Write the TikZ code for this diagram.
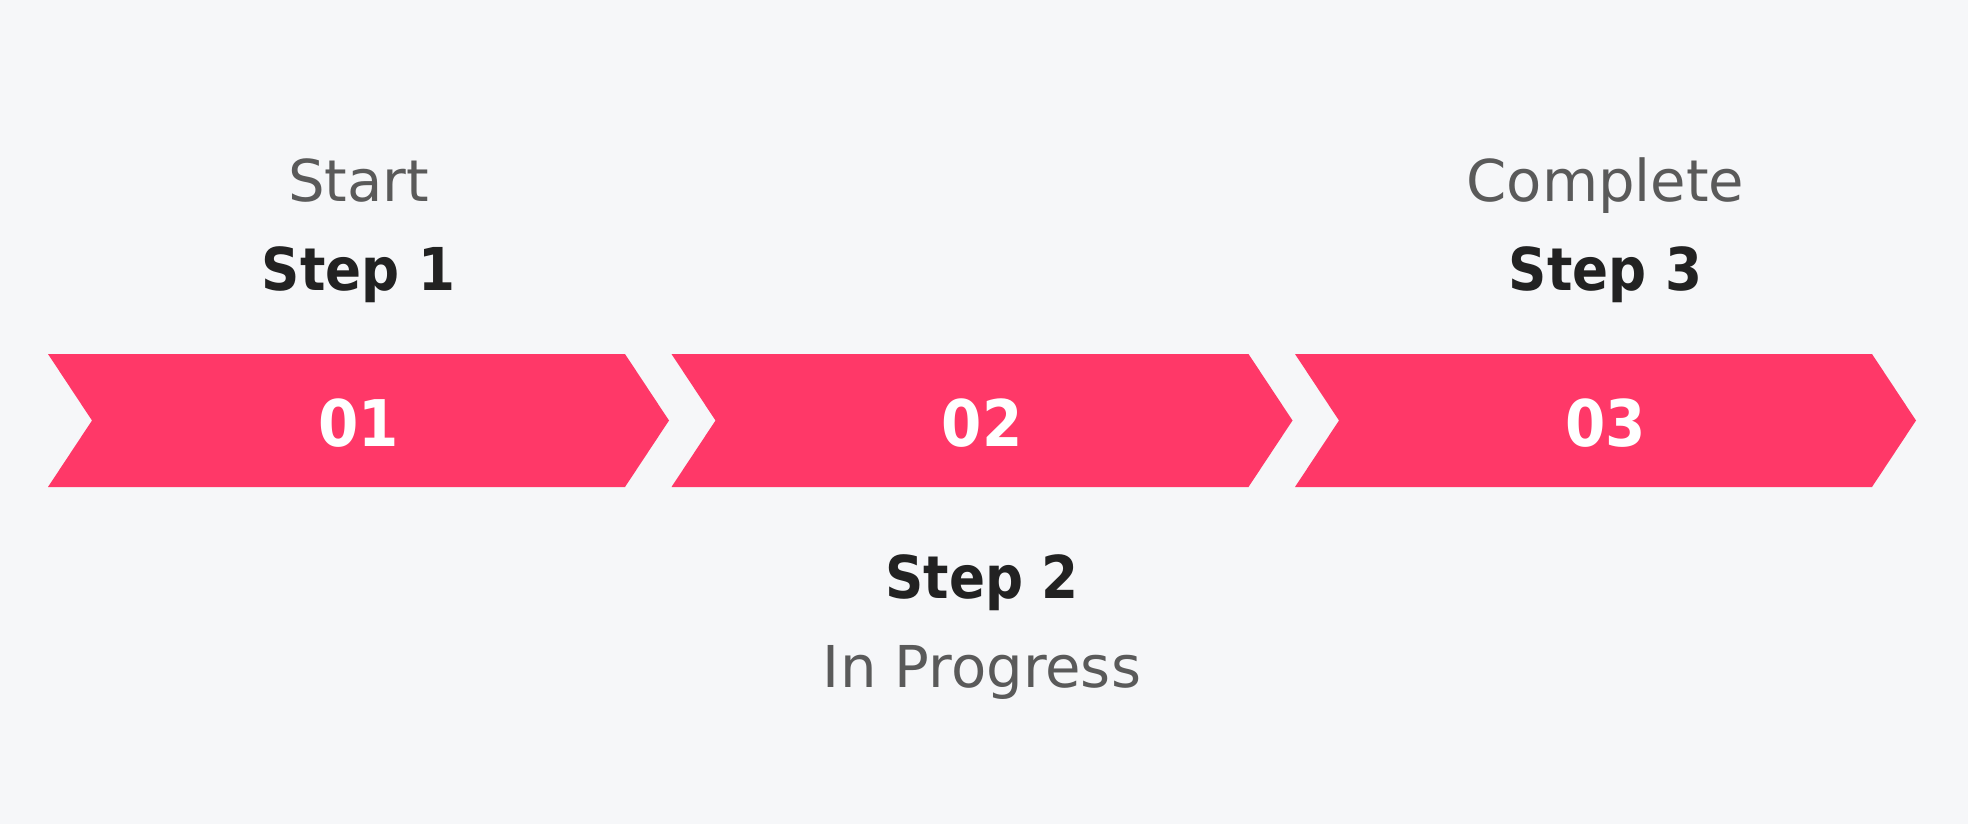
\documentclass[tikz,border=0pt]{standalone}
\usepackage{fontspec}
\setmainfont{DejaVu Sans}[BoldFeatures={FakeStretch=0.9}]
\usepackage{tikz}
\usetikzlibrary{calc}

\definecolor{bgcol}{HTML}{F6F7F9}
\definecolor{chevcol}{HTML}{FF3868}
\definecolor{darktxt}{HTML}{222222}
\definecolor{greytxt}{HTML}{5A5A5A}

\begin{document}
\begin{tikzpicture}[x=0.01cm,y=-0.01cm,
        chev/.style={fill=chevcol},
        num/.style={anchor=base,text=white,font=\fontsize{18.3}{18.3}\selectfont\bfseries},
        title/.style={anchor=base,text=darktxt,font=\fontsize{16.8}{16.8}\selectfont\bfseries},
        status/.style={anchor=base,text=greytxt,font=\fontsize{16.4}{16.4}\selectfont}]
        \fill[bgcol] (0,0) rectangle (1968,824);
        \useasboundingbox (0,0) rectangle (1968,824);
        % chevrons
        \fill[chev] (48,354) -- (625,354) -- (669,420.5) -- (625,487) -- (48,487) -- (92,420.5) -- cycle;
        \fill[chev] (671.5,354) -- (1248.5,354) -- (1292.5,420.5) -- (1248.5,487) -- (671.5,487) -- (715.5,420.5) -- cycle;
        \fill[chev] (1295,354) -- (1872,354) -- (1916,420.5) -- (1872,487) -- (1295,487) -- (1339,420.5) -- cycle;
        \node[num]    (n1) at (358.5,446) {01};
        \node[num]    (n2) at (982,446)   {02};
        \node[num]    (n3) at (1605.5,446) {03};
        % labels
        \node[title]  (s1) at (358.5,290) {Step 1};
        \node[status] (t1) at (358.5,202) {Start};
        \node[title]  (s2) at (982,598)   {Step 2};
        \node[status] (t2) at (982,687)   {In Progress};
        \node[title]  (s3) at (1605.5,290) {Step 3};
        \node[status] (t3) at (1605.5,202) {Complete};
      \end{tikzpicture}
\end{document}
